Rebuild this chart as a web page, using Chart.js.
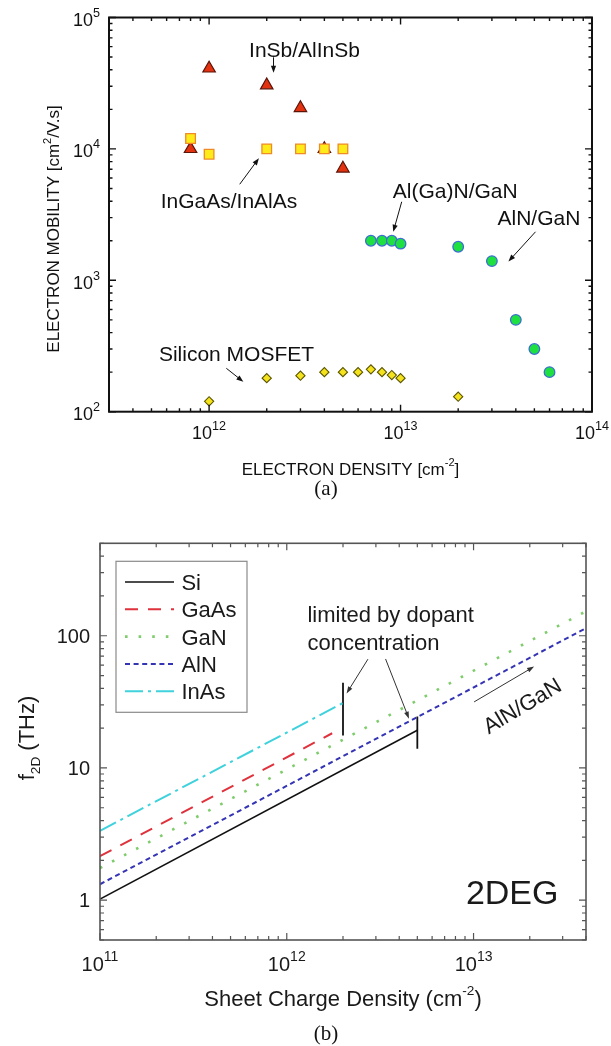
<!DOCTYPE html>
<html>
<head>
<meta charset="utf-8">
<script src="https://cdn.jsdelivr.net/npm/chart.js@4.4.1/dist/chart.umd.min.js"></script>
<style>
  html, body { margin: 0; padding: 0; background: #fff; }
  #wrap { position: relative; width: 611px; height: 1046px; overflow: hidden; }
  canvas { position: absolute; left: 0; }
  #mobility { top: 0; }
  #cutoff { top: 500px; }
  .cap { position: absolute; left: 0; width: 652px; text-align: center; font: 21px "Liberation Serif", "Times New Roman", serif; line-height: 24px; color: #111; }
</style>
</head>
<body>
<div id="wrap">
  <canvas id="mobility" width="611" height="500"></canvas>
  <canvas id="cutoff" width="611" height="546"></canvas>
  <div class="cap" style="top:476px">(a)</div>
  <div class="cap" style="top:1021px">(b)</div>
</div>
<script>
const FONT = '"Liberation Sans", Arial, Helvetica, sans-serif';

// (a) electron mobility vs electron density
const inSbDensity = [8e11, 1e12, 2e12, 3e12, 4e12, 5e12];
const inSbMobility = [1.0e4, 4.1e4, 3.05e4, 2.05e4, 1.0e4, 7.1e3];
const inGaAsDensity = [8e11, 1e12, 2e12, 3e12, 4e12, 5e12];
const inGaAsMobility = [1.2e4, 9.1e3, 1.0e4, 1.0e4, 1.0e4, 1.0e4];
const ganDensity = [7e12, 8e12, 9e12, 1e13, 2e13, 3e13, 4e13, 5e13, 6e13];
const ganMobility = [2000, 2000, 2000, 1900, 1800, 1400, 500, 300, 200];
const mosDensity = [1e12, 2e12, 3e12, 4e12, 5e12, 6e12, 7e12, 8e12, 9e12, 1e13, 2e13];
const mosMobility = [120, 180, 188, 200, 200, 200, 210, 200, 190, 180, 130];
const mobilityXExps = [12, 13, 14];
const mobilityYExps = [2, 3, 4, 5];

// labels and arrows of (a), in data units
const mobilityNotes = [
  { text: 'InSb/AlInSb', x: 3.15e12, y: 5.75e4 },
  { text: 'InGaAs/InAlAs', x: 1.27e12, y: 4080 },
  { text: 'Al(Ga)N/GaN', x: 1.93e13, y: 4820 },
  { text: 'AlN/GaN', x: 5.28e13, y: 3030 },
  { text: 'Silicon MOSFET', x: 1.39e12, y: 275 }
];
const mobilityArrows = [
  [2.17e12, 4.98e4, 2.17e12, 3.8e4],
  [1.445e12, 5380, 1.82e12, 8490],
  [1.014e13, 3960, 9.16e12, 2340],
  [5.07e13, 2340, 3.66e13, 1390],
  [1.23e12, 214, 1.51e12, 169]
];

// (b) 2DEG plasma frequency vs sheet charge density
const siDensity = [1e11, 5e12];
const siFreq = [1.02, 19.3];
const gaasDensity = [1e11, 1.75e12];
const gaasFreq = [2.15, 18.3];
const ganLineDensity = [1e11, 4e13];
const ganFreq = [1.75, 153];
const alnDensity = [1e11, 4e13];
const alnFreq = [1.32, 114];
const inasDensity = [1e11, 2e12];
const inasFreq = [3.35, 31];
const limitDensity = [2e12, 5e12];
const limitLow = [17.6, 14];
const limitHigh = [44, 24.5];
const cutoffXExps = [11, 12, 13];
const cutoffYTicks = [1, 10, 100];

const toPoints = (xs, ys) => xs.map((v, i) => ({ x: v, y: ys[i] }));

// all tick positions of a log axis, decades flagged as major
function logTicks(min, max) {
  const out = [];
  for (let d = Math.floor(Math.log10(min)); d <= Math.ceil(Math.log10(max)); d++) {
    for (let m = 1; m <= 9; m++) {
      const v = m * Math.pow(10, d);
      if (v >= min * 0.999 && v <= max * 1.001) out.push({ v, major: m === 1 });
    }
  }
  return out;
}

function drawFrame(ctx, a, x, y, o) {
  ctx.save();
  ctx.strokeStyle = o.color;
  ctx.lineWidth = o.tick;
  ctx.beginPath();
  logTicks(x.min, x.max).forEach(t => {
    const px = x.getPixelForValue(t.v);
    const len = t.major ? o.major : o.minor;
    ctx.moveTo(px, a.bottom); ctx.lineTo(px, a.bottom - len);
    ctx.moveTo(px, a.top); ctx.lineTo(px, a.top + len);
  });
  logTicks(y.min, y.max).forEach(t => {
    const py = y.getPixelForValue(t.v);
    const len = t.major ? o.major : o.minor;
    ctx.moveTo(a.left, py); ctx.lineTo(a.left + len, py);
    ctx.moveTo(a.right, py); ctx.lineTo(a.right - len, py);
  });
  ctx.stroke();
  ctx.lineWidth = o.frame;
  ctx.strokeRect(a.left, a.top, a.right - a.left, a.bottom - a.top);
  ctx.restore();
}

// text with super (1) / sub (-1) scripts, y is the baseline
function drawRich(ctx, parts, x, y, align, size, ratio) {
  const small = size * (ratio || 0.65);
  const widths = parts.map(([t, m]) => {
    ctx.font = (m ? small : size) + 'px ' + FONT;
    return ctx.measureText(t).width;
  });
  const total = widths.reduce((s, w) => s + w, 0);
  let cx = align === 'center' ? x - total / 2 : align === 'right' ? x - total : x;
  ctx.textAlign = 'left';
  ctx.textBaseline = 'alphabetic';
  parts.forEach(([t, m], i) => {
    ctx.font = (m ? small : size) + 'px ' + FONT;
    const dy = m === 1 ? -size * 0.5 : m === -1 ? size * 0.25 : 0;
    ctx.fillText(t, cx, y + dy);
    cx += widths[i];
  });
}

function drawArrow(ctx, x1, y1, x2, y2, head, half) {
  const ang = Math.atan2(y2 - y1, x2 - x1);
  ctx.beginPath();
  ctx.moveTo(x1, y1);
  ctx.lineTo(x2 - Math.cos(ang) * head * 0.8, y2 - Math.sin(ang) * head * 0.8);
  ctx.stroke();
  ctx.beginPath();
  ctx.moveTo(x2, y2);
  ctx.lineTo(x2 - Math.cos(ang) * head + Math.sin(ang) * half, y2 - Math.sin(ang) * head - Math.cos(ang) * half);
  ctx.lineTo(x2 - Math.cos(ang) * head - Math.sin(ang) * half, y2 - Math.sin(ang) * head + Math.cos(ang) * half);
  ctx.closePath();
  ctx.fill();
}

const mobilityDecor = {
  id: 'mobilityDecor',
  afterDraw(chart) {
    const { ctx, chartArea: a, scales: { x, y } } = chart;
    drawFrame(ctx, a, x, y, { color: '#111', frame: 2, tick: 1.4, major: 7, minor: 3.5 });
    ctx.save();
    ctx.fillStyle = '#111';
    mobilityXExps.forEach(e => drawRich(ctx, [['10', 0], [String(e), 1]], x.getPixelForValue(Math.pow(10, e)), a.bottom + 27.6, 'center', 18, 0.7));
    mobilityYExps.forEach(e => drawRich(ctx, [['10', 0], [String(e), 1]], a.left - 9, y.getPixelForValue(Math.pow(10, e)) + 8.5, 'right', 18, 0.7));

    drawRich(ctx, [['ELECTRON DENSITY [cm', 0], ['-2', 1], [']', 0]], (a.left + a.right) / 2, 474.5, 'center', 17, 0.65);
    ctx.save();
    ctx.translate(53, 229);
    ctx.rotate(-Math.PI / 2);
    drawRich(ctx, [['ELECTRON MOBILITY [cm', 0], ['2', 1], ['/V.s]', 0]], 0, 6, 'center', 17, 0.65);
    ctx.restore();

    mobilityNotes.forEach(n => {
      drawRich(ctx, [[n.text, 0]], x.getPixelForValue(n.x), y.getPixelForValue(n.y) + 7.5, 'center', 21);
    });
    ctx.strokeStyle = '#111';
    ctx.lineWidth = 1;
    mobilityArrows.forEach(([x1, y1, x2, y2]) => {
      drawArrow(ctx, x.getPixelForValue(x1), y.getPixelForValue(y1), x.getPixelForValue(x2), y.getPixelForValue(y2), 7, 2.6);
    });
    ctx.restore();
  }
};

new Chart(document.getElementById('mobility'), {
  type: 'scatter',
  data: {
    datasets: [
      { label: 'InGaAs/InAlAs', data: toPoints(inGaAsDensity, inGaAsMobility), pointStyle: 'rect', pointRadius: 6.8, backgroundColor: '#ffeb1a', borderColor: '#ee8a2a', borderWidth: 1.3 },
      { label: 'InSb/AlInSb', data: toPoints(inSbDensity, inSbMobility), pointStyle: 'triangle', pointRadius: 7.2, backgroundColor: '#e2320f', borderColor: '#5a1408', borderWidth: 1.2 },
      { label: 'Al(Ga)N/GaN', data: toPoints(ganDensity, ganMobility), pointStyle: 'circle', pointRadius: 5.3, backgroundColor: '#1fe041', borderColor: '#3b6fd0', borderWidth: 1.3 },
      { label: 'Silicon MOSFET', data: toPoints(mosDensity, mosMobility), pointStyle: 'rectRot', pointRadius: 4.6, backgroundColor: '#f4e21c', borderColor: '#5c5600', borderWidth: 1.1 }
    ]
  },
  options: {
    responsive: false,
    animation: false,
    events: [],
    layout: { padding: { left: 109, top: 17.5, right: 19, bottom: 88.3 } },
    plugins: { legend: { display: false }, tooltip: { enabled: false } },
    scales: {
      x: { type: 'logarithmic', min: 3e11, max: 1e14, display: false },
      y: { type: 'logarithmic', min: 100, max: 1e5, display: false }
    }
  },
  plugins: [mobilityDecor]
});

const cutoffDecor = {
  id: 'cutoffDecor',
  afterDraw(chart) {
    const { ctx, chartArea: a, scales: { x, y } } = chart;
    drawFrame(ctx, a, x, y, { color: '#555', frame: 1.6, tick: 1.2, major: 7, minor: 4 });
    ctx.save();
    ctx.fillStyle = '#1a1a1a';
    cutoffXExps.forEach(e => drawRich(ctx, [['10', 0], [String(e), 1]], x.getPixelForValue(Math.pow(10, e)), a.bottom + 30.7, 'center', 20, 0.7));
    cutoffYTicks.forEach(v => drawRich(ctx, [[String(v), 0]], a.left - 10, y.getPixelForValue(v) + 7.2, 'right', 20));

    drawRich(ctx, [['Sheet Charge Density (cm', 0], ['-2', 1], [')', 0]], (a.left + a.right) / 2, 506, 'center', 22, 0.62);
    ctx.save();
    ctx.translate(26, 238);
    ctx.rotate(-Math.PI / 2);
    drawRich(ctx, [['f', 0], ['2D', -1], [' (THz)', 0]], 0, 8, 'center', 22, 0.62);
    ctx.restore();

    // legend box
    const bx = a.left + 16, by = a.top + 18;
    ctx.strokeStyle = '#8a8a8a';
    ctx.lineWidth = 1.2;
    ctx.strokeRect(bx, by, 131, 151);
    let row = 0;
    chart.data.datasets.forEach(ds => {
      if (ds.noLegend) return;
      const ry = by + 20.7 + row * 27.3;
      ctx.save();
      ctx.strokeStyle = ds.borderColor;
      ctx.lineWidth = ds.borderWidth;
      ctx.setLineDash(ds.borderDash || []);
      ctx.beginPath();
      ctx.moveTo(bx + 9, ry);
      ctx.lineTo(bx + 58, ry);
      ctx.stroke();
      ctx.restore();
      drawRich(ctx, [[ds.label, 0]], bx + 65.4, ry + 7.9, 'left', 22);
      row++;
    });

    const lx = x.getPixelForValue(1.29e12);
    drawRich(ctx, [['limited by dopant', 0]], lx, y.getPixelForValue(147) + 7.9, 'left', 22);
    drawRich(ctx, [['concentration', 0]], lx, y.getPixelForValue(90) + 7.9, 'left', 22);
    drawRich(ctx, [['2DEG', 0]], x.getPixelForValue(1.61e13), y.getPixelForValue(1.16) + 12.3, 'center', 34);
    ctx.save();
    ctx.translate(x.getPixelForValue(1.815e13), y.getPixelForValue(29.8));
    ctx.rotate(-31 * Math.PI / 180);
    drawRich(ctx, [['AlN/GaN', 0]], 0, 7.9, 'center', 22);
    ctx.restore();

    ctx.strokeStyle = '#333';
    ctx.fillStyle = '#333';
    ctx.lineWidth = 1;
    [[2.72e12, 66.5, 2.09e12, 36.6], [3.38e12, 66.7, 4.51e12, 23.6], [1.007e13, 31.6, 2.11e13, 58.4]].forEach(([x1, y1, x2, y2]) => {
      drawArrow(ctx, x.getPixelForValue(x1), y.getPixelForValue(y1), x.getPixelForValue(x2), y.getPixelForValue(y2), 7, 2.4);
    });
    ctx.restore();
  }
};

const lineDefaults = { showLine: true, pointRadius: 0, fill: false, tension: 0 };

new Chart(document.getElementById('cutoff'), {
  type: 'scatter',
  data: {
    datasets: [
      { ...lineDefaults, label: 'Si', data: toPoints(siDensity, siFreq), borderColor: '#111', borderWidth: 1.6 },
      { ...lineDefaults, label: 'GaAs', data: toPoints(gaasDensity, gaasFreq), borderColor: '#e0323c', borderWidth: 2, borderDash: [13, 10] },
      { ...lineDefaults, label: 'GaN', data: toPoints(ganLineDensity, ganFreq), borderColor: '#7fcc6c', borderWidth: 2.6, borderDash: [2.6, 11] },
      { ...lineDefaults, label: 'AlN', data: toPoints(alnDensity, alnFreq), borderColor: '#3434b4', borderWidth: 2, borderDash: [5, 3.6] },
      { ...lineDefaults, label: 'InAs', data: toPoints(inasDensity, inasFreq), borderColor: '#3fd2dc', borderWidth: 2, borderDash: [18, 5, 3, 5] },
      { ...lineDefaults, label: 'limit1', noLegend: true, data: [{ x: limitDensity[0], y: limitLow[0] }, { x: limitDensity[0], y: limitHigh[0] }], borderColor: '#111', borderWidth: 1.8 },
      { ...lineDefaults, label: 'limit2', noLegend: true, data: [{ x: limitDensity[1], y: limitLow[1] }, { x: limitDensity[1], y: limitHigh[1] }], borderColor: '#111', borderWidth: 1.8 }
    ]
  },
  options: {
    responsive: false,
    animation: false,
    events: [],
    layout: { padding: { left: 100, top: 43.3, right: 25, bottom: 106 } },
    plugins: { legend: { display: false }, tooltip: { enabled: false } },
    scales: {
      x: { type: 'logarithmic', min: 1e11, max: 4e13, display: false },
      y: { type: 'logarithmic', min: 0.5, max: 500, display: false }
    }
  },
  plugins: [cutoffDecor]
});
</script>
</body>
</html>
